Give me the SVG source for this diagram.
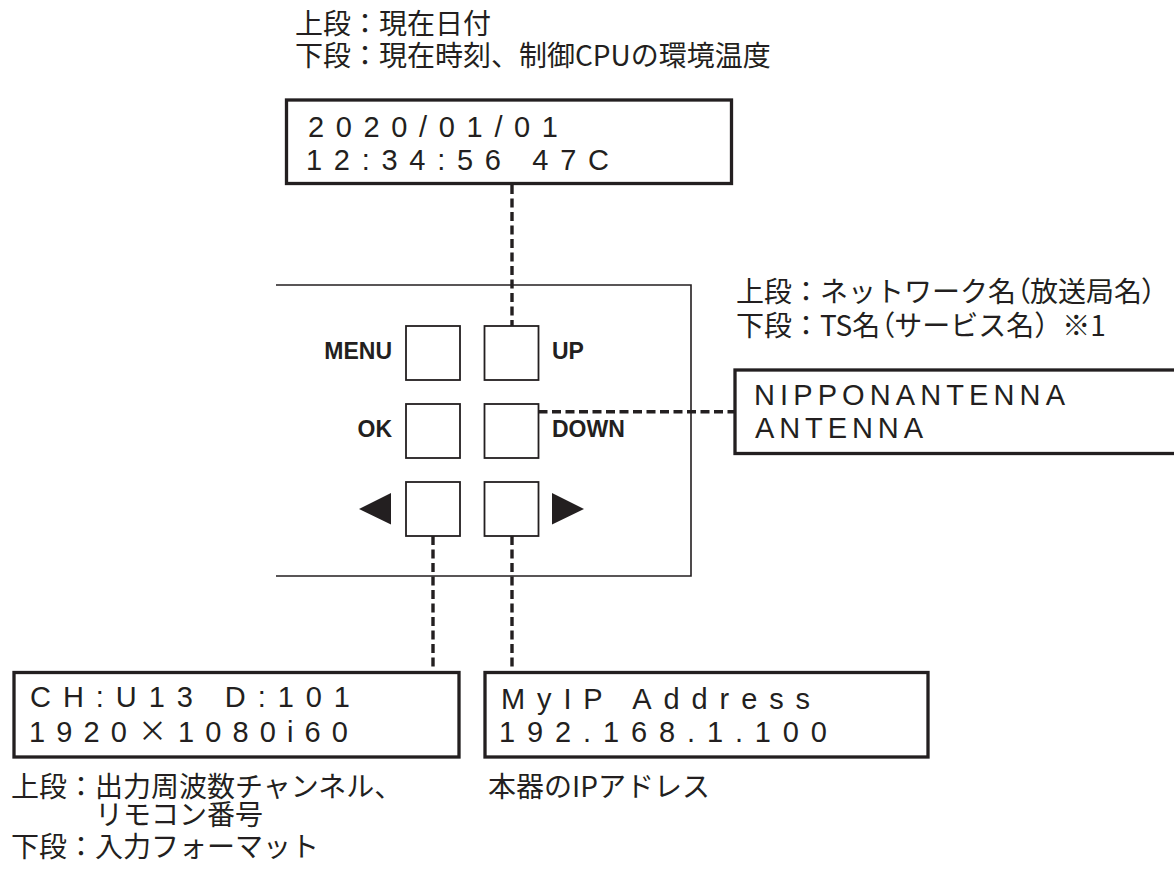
<svg xmlns="http://www.w3.org/2000/svg" width="1174" height="884" viewBox="0 0 1174 884">
<style>
.bg{fill:#ffffff}
.lcd{fill:#ffffff;stroke:#231f20;stroke-width:3.3}
.panel{fill:none;stroke:#231f20;stroke-width:1.6}
.btn{fill:#ffffff;stroke:#231f20;stroke-width:1.8}
.dash{fill:none;stroke:#231f20;stroke-width:3.4;stroke-dasharray:9 4.5}
.lcdt{font-family:"Liberation Sans",Arial,sans-serif;font-size:29px;fill:#231f20}
.jp{font-family:"Noto Sans CJK JP","Noto Sans",sans-serif;font-size:28px;fill:#231f20}
.pp{font-feature-settings:"palt"}
.key{font-family:"Liberation Sans",Arial,sans-serif;font-size:23px;font-weight:bold;fill:#231f20}
.tri{fill:#231f20}
</style>
<rect class="bg" x="0" y="0" width="1174" height="884"/>

<g id="panel">
  <path class="panel" d="M276 285 H691 V576 H276"/>
</g>

<g id="connectors">
  <line class="dash" x1="512" y1="185" x2="512" y2="326"/>
  <line class="dash" x1="538.5" y1="411.7" x2="735" y2="411.7"/>
  <line class="dash" x1="433" y1="536" x2="433" y2="672"/>
  <line class="dash" x1="512" y1="536" x2="512" y2="672"/>
</g>

<g id="btn-menu">
  <rect class="btn" x="406" y="326" width="54" height="54"/>
  <text class="key" x="392" y="359" text-anchor="end">MENU</text>
</g>
<g id="btn-up">
  <rect class="btn" x="484.5" y="326" width="54" height="54"/>
  <text class="key" x="552" y="359">UP</text>
</g>
<g id="btn-ok">
  <rect class="btn" x="406" y="404" width="54" height="54"/>
  <text class="key" x="392" y="437" text-anchor="end">OK</text>
</g>
<g id="btn-down">
  <rect class="btn" x="484.5" y="404" width="54" height="54"/>
  <text class="key" x="552" y="437">DOWN</text>
</g>
<g id="btn-left">
  <rect class="btn" x="406" y="482" width="54" height="54"/>
  <polygon class="tri" points="359,509 391,493 391,524.5"/>
</g>
<g id="btn-right">
  <rect class="btn" x="484.5" y="482" width="54" height="54"/>
  <polygon class="tri" points="552,493 552,524.5 584,509"/>
</g>

<g id="lcd-datetime">
  <text class="jp" x="295" y="34">上段：現在日付</text>
  <text class="jp" x="295" y="66">下段：現在時刻、制御CPUの環境温度</text>
  <rect class="lcd" x="286.5" y="100" width="445" height="83.5"/>
  <text class="lcdt" x="308" y="137" textLength="250" lengthAdjust="spacing">2020/01/01</text>
  <text class="lcdt" x="306" y="170" textLength="303" lengthAdjust="spacing">12:34:56 47C</text>
</g>

<g id="lcd-network">
  <text class="jp" x="736" y="302">上段：ネットワーク名<tspan class="pp">（</tspan>放送局名<tspan class="pp">）</tspan></text>
  <text class="jp" x="736" y="336">下段：TS名<tspan class="pp">（</tspan>サービス名）※1</text>
  <rect class="lcd" x="735" y="370" width="500" height="83.5"/>
  <text class="lcdt" x="754" y="405" textLength="311" lengthAdjust="spacing">NIPPONANTENNA</text>
  <text class="lcdt" x="755" y="438" textLength="168" lengthAdjust="spacing">ANTENNA</text>
</g>

<g id="lcd-channel">
  <rect class="lcd" x="14" y="672.5" width="445" height="84.5"/>
  <text class="lcdt" x="30" y="707" textLength="320" lengthAdjust="spacing">CH:U13 D:101</text>
  <text class="lcdt" x="29" y="742" textLength="319" lengthAdjust="spacing">1920<tspan font-family="Noto Sans CJK JP">×</tspan>1080i60</text>
  <text class="jp" x="11" y="797">上段：出力周波数チャンネル、</text>
  <text class="jp" x="95" y="825">リモコン番号</text>
  <text class="jp" x="11" y="857">下段：入力フォーマット</text>
</g>

<g id="lcd-ip">
  <rect class="lcd" x="485" y="672.5" width="443" height="84.5"/>
  <text class="lcdt" x="501" y="709" textLength="309" lengthAdjust="spacing">MyIP Address</text>
  <text class="lcdt" x="499" y="742" textLength="328" lengthAdjust="spacing">192.168.1.100</text>
  <text class="jp" x="488" y="797">本器のIPアドレス</text>
</g>
</svg>
